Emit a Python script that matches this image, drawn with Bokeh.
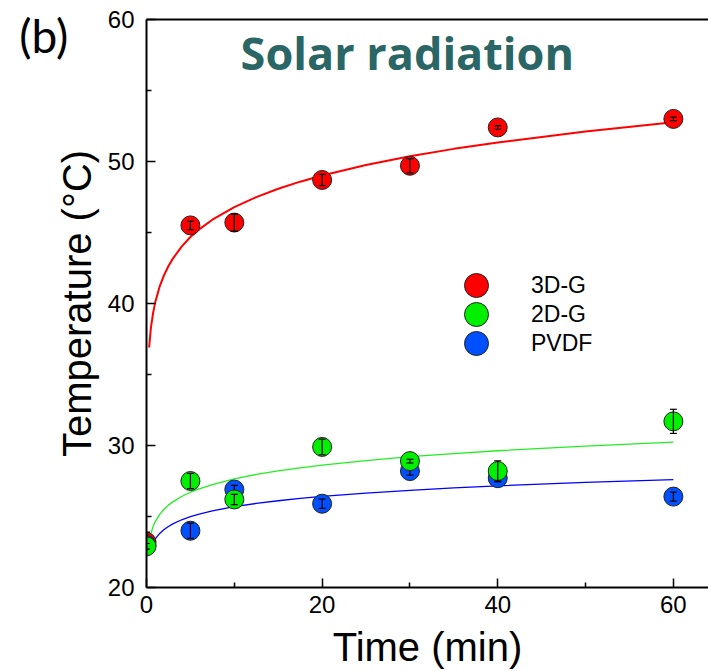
from bokeh.plotting import figure
from bokeh.models import Range1d, LinearAxis, FixedTicker, Legend, LegendItem, Label
from bokeh.embed import file_html
from bokeh.resources import INLINE

# ---- data ----
time_min = [0, 5, 10, 20, 30, 40, 60]
temp_3dg = [23.2, 45.5, 45.7, 48.7, 49.7, 52.4, 53.0]
err_3dg = [0.7, 0.3, 0.6, 0.4, 0.5, 0.13, 0.12]
temp_2dg = [22.9, 27.5, 26.2, 29.9, 28.9, 28.2, 31.7]
err_2dg = [0.2, 0.53, 0.36, 0.55, 0.13, 0.72, 0.85]
temp_pvdf = [23.0, 24.0, 26.9, 25.9, 28.2, 27.7, 26.4]
err_pvdf = [0.2, 0.53, 0.29, 0.33, 0.29, 0.26, 0.32]

# fitted curves
fit_t = [0.3, 0.5, 0.75, 1, 1.5, 2, 2.5, 3, 4, 5, 6, 7.5, 10, 12.5, 15, 17.5, 20, 25,
         30, 35, 40, 50, 60]
fit_3dg = [36.9, 38.28, 39.33, 40.1, 41.2, 42.0, 42.64, 43.16, 44.0, 44.68, 45.22, 45.9,
           46.79, 47.49, 48.08, 48.58, 49.01, 49.75, 50.37, 50.89, 51.34, 52.12, 52.76]
fit_2dg = [23.2, 23.8, 24.29, 24.64, 25.15, 25.51, 25.8, 26.03, 26.41, 26.71, 26.95, 27.25,
           27.65, 27.96, 28.21, 28.43, 28.62, 28.94, 29.21, 29.43, 29.63, 29.96, 30.24]
fit_pvdf = [22.33, 22.79, 23.16, 23.43, 23.81, 24.09, 24.3, 24.48, 24.77, 24.99, 25.17,
            25.4, 25.69, 25.92, 26.11, 26.27, 26.42, 26.65, 26.84, 27.01, 27.16, 27.4, 27.6]

series_names = ["3D-G", "2D-G", "PVDF"]
x_ticks = [0, 20, 40, 60]
y_ticks = [20, 30, 40, 50, 60]

RED = "#FF0000"
GREEN = "#00F000"
BLUE = "#0050FF"

p = figure(width=708, height=671, output_backend="svg", toolbar_location=None,
           x_range=Range1d(0, 64), y_range=Range1d(20, 60),
           min_border_left=146, min_border_right=0, min_border_top=19,
           min_border_bottom=82)
p.outline_line_color = None
p.grid.visible = False
p.background_fill_color = "white"
p.border_fill_color = "white"

for ax in (p.xaxis[0], p.yaxis[0]):
    ax.axis_line_width = 2
    ax.axis_line_color = "black"
    ax.major_tick_in = 9
    ax.major_tick_out = 0
    ax.minor_tick_in = 5
    ax.minor_tick_out = 0
    ax.major_tick_line_width = 1.5
    ax.minor_tick_line_width = 1.5
    ax.major_tick_line_color = "black"
    ax.minor_tick_line_color = "black"
    ax.major_label_text_font = "Liberation Sans"
    ax.major_label_text_font_size = "24px"
    ax.major_label_text_color = "black"
    ax.axis_label_text_font = "Liberation Sans"
    ax.axis_label_text_font_size = "40px"
    ax.axis_label_text_font_style = "normal"
    ax.axis_label_text_color = "black"

p.xaxis[0].ticker = FixedTicker(ticks=x_ticks, minor_ticks=[10, 30, 50])
p.yaxis[0].ticker = FixedTicker(ticks=y_ticks, minor_ticks=[25, 35, 45, 55])
p.xaxis[0].axis_label = "Time (min)"
p.yaxis[0].axis_label = "Temperature (°C)"
p.xaxis[0].major_label_standoff = 8
p.xaxis[0].axis_label_standoff = 9
p.yaxis[0].major_label_standoff = 12
p.yaxis[0].axis_label_standoff = 6

top_axis = LinearAxis(ticker=FixedTicker(ticks=[]), axis_line_width=2,
                      axis_line_color="black", major_tick_in=0, major_tick_out=0,
                      minor_tick_in=0, minor_tick_out=0,
                      major_label_text_font_size="0px", major_label_standoff=0)
p.add_layout(top_axis, "above")

# fit lines
p.line(fit_t, fit_3dg, line_color=RED, line_width=2)
p.line(fit_t, fit_2dg, line_color="#22EE22", line_width=1.3)
p.line(fit_t, fit_pvdf, line_color="#0000FF", line_width=1.3)

renderers = {}
order = [("3D-G", temp_3dg, err_3dg, RED), ("PVDF", temp_pvdf, err_pvdf, BLUE),
         ("2D-G", temp_2dg, err_2dg, GREEN)]
for name, ys, es, col in order:
    r = p.scatter(time_min, ys, size=19, fill_color=col, line_color="#222222",
                  line_width=1)
    renderers[name] = r
    lo = [y - e for y, e in zip(ys, es)]
    hi = [y + e for y, e in zip(ys, es)]
    p.segment(time_min, lo, time_min, hi, line_color="black", line_width=1.2)
    p.scatter(time_min, lo, marker="dash", size=7, line_color="black", line_width=1.2)
    p.scatter(time_min, hi, marker="dash", size=7, line_color="black", line_width=1.2)

# one legend box per entry so the big circles can sit close together
legend_y = [272, 243, 214]
for n, ly in zip(series_names, legend_y):
    lg = Legend(items=[LegendItem(label=n, renderers=[renderers[n]])],
                location=(300, ly), glyph_width=60, glyph_height=60,
                padding=0, margin=0, label_standoff=25,
                label_text_font="Liberation Sans", label_text_font_size="23px",
                label_text_color="black",
                background_fill_alpha=0, border_line_color=None)
    p.add_layout(lg)

p.add_layout(Label(x=29.7, y=57.7, text="Solar radiation", text_align="center",
                   text_baseline="alphabetic", text_font="Open Sans",
                   text_font_style="bold", text_font_size="45px", text_color="#296665"))
p.add_layout(Label(x=-14.5, y=58.9, text="(b)", text_align="left",
                   text_baseline="alphabetic", text_font="Lato",
                   text_font_size="46px", text_color="black"), "left")

open("out.html", "w").write(file_html(p, INLINE))
